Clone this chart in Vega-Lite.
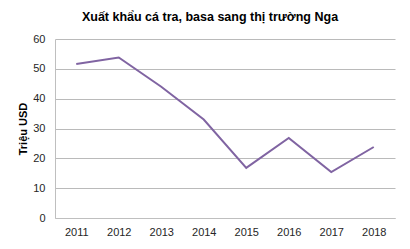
{
  "$schema": "https://vega.github.io/schema/vega-lite/v6.json",
  "autosize": "none",
  "width": 340,
  "height": 179,
  "padding": {"left": 55, "top": 39, "right": 15, "bottom": 31},
  "background": "white",
  "title": {
    "text": "Xuất khẩu cá tra, basa sang thị trường Nga",
    "font": "Liberation Sans",
    "fontSize": 12.5,
    "fontWeight": "bold",
    "color": "#000000",
    "anchor": "middle",
    "dx": -15,
    "offset": 10
  },
  "data": {
    "values": [
      {"year": "2011", "value": 51.6},
      {"year": "2012", "value": 53.8},
      {"year": "2013", "value": 44.0},
      {"year": "2014", "value": 33.0},
      {"year": "2015", "value": 16.8},
      {"year": "2016", "value": 26.8},
      {"year": "2017", "value": 15.4},
      {"year": "2018", "value": 23.8}
    ]
  },
  "mark": {"type": "line", "color": "#8064A2", "strokeWidth": 2},
  "encoding": {
    "x": {
      "field": "year",
      "type": "ordinal",
      "scale": {"type": "point", "padding": 0.5},
      "axis": {
        "title": null,
        "labelAngle": 0,
        "ticks": false,
        "grid": false,
        "domainColor": "#bfbfbf",
        "labelFont": "Liberation Sans",
        "labelFontSize": 11,
        "labelColor": "#262626",
        "labelPadding": 8
      }
    },
    "y": {
      "field": "value",
      "type": "quantitative",
      "scale": {"domain": [0, 60], "nice": false},
      "axis": {
        "title": "Triệu USD",
        "titleFont": "Liberation Sans",
        "titleFontSize": 11,
        "titleFontWeight": "bold",
        "titleColor": "#000000",
        "titlePadding": 4,
        "values": [0, 10, 20, 30, 40, 50, 60],
        "ticks": false,
        "grid": true,
        "gridColor": "#bababa",
        "domainColor": "#bfbfbf",
        "labelFont": "Liberation Sans",
        "labelFontSize": 11,
        "labelColor": "#262626",
        "labelPadding": 10
      }
    }
  },
  "config": {"view": {"stroke": null}}
}
